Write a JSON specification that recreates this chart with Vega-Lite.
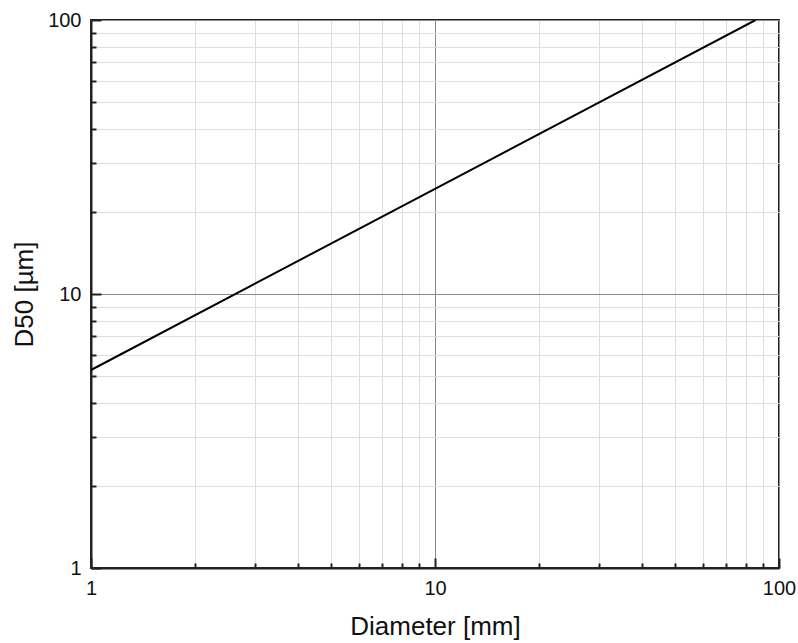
{
  "$schema": "https://vega.github.io/schema/vega-lite/v6.json",
  "width": 688,
  "height": 548,
  "autosize": "none",
  "padding": {"left": 91, "top": 20, "right": 19, "bottom": 75},
  "background": "white",
  "config": {
    "view": {"stroke": "#222222", "strokeWidth": 2},
    "font": "Liberation Sans",
    "axis": {
      "domainColor": "#222222",
      "domainWidth": 2,
      "tickColor": "#222222",
      "tickWidth": 2,
      "labelFont": "Liberation Sans",
      "labelFontSize": 20,
      "labelColor": "#111111",
      "titleFont": "Liberation Sans",
      "titleFontSize": 26,
      "titleFontWeight": "normal",
      "titleColor": "#111111",
      "labelOverlap": false,
      "labelFlush": false,
      "grid": true
    }
  },
  "data": {
    "values": [
      {"diameter": 1, "d50": 5.28},
      {"diameter": 10, "d50": 24.2},
      {"diameter": 85.5, "d50": 100}
    ]
  },
  "mark": {"type": "line", "color": "#000000", "strokeWidth": 2, "clip": true},
  "encoding": {
    "x": {
      "field": "diameter",
      "type": "quantitative",
      "scale": {"type": "log", "domain": [1, 100], "nice": false},
      "axis": {
        "title": "Diameter [mm]",
        "values": [1, 2, 3, 4, 5, 6, 7, 8, 9, 10, 20, 30, 40, 50, 60, 70, 80, 90, 100],
        "labelExpr": "indexof([1, 10, 100], datum.value) >= 0 ? format(datum.value, 'd') : ''",
        "tickSize": {"condition": {"test": "indexof([1, 10, 100], datum.value) >= 0", "value": -10}, "value": -5},
        "labelPadding": 20,
        "titlePadding": 10,
        "gridColor": {"condition": {"test": "indexof([1, 10, 100], datum.value) >= 0", "value": "#8a8a8a"}, "value": "#dedede"},
        "gridWidth": 1
      }
    },
    "y": {
      "field": "d50",
      "type": "quantitative",
      "scale": {"type": "log", "domain": [1, 100], "nice": false},
      "axis": {
        "title": "D50 [µm]",
        "values": [1, 2, 3, 4, 5, 6, 7, 8, 9, 10, 20, 30, 40, 50, 60, 70, 80, 90, 100],
        "labelExpr": "indexof([1, 10, 100], datum.value) >= 0 ? format(datum.value, 'd') : ''",
        "tickSize": {"condition": {"test": "indexof([1, 10, 100], datum.value) >= 0", "value": -10}, "value": -5},
        "labelPadding": 20,
        "titlePadding": 10,
        "gridColor": {"condition": {"test": "indexof([1, 10, 100], datum.value) >= 0", "value": "#8a8a8a"}, "value": "#dedede"},
        "gridWidth": 1
      }
    }
  }
}
